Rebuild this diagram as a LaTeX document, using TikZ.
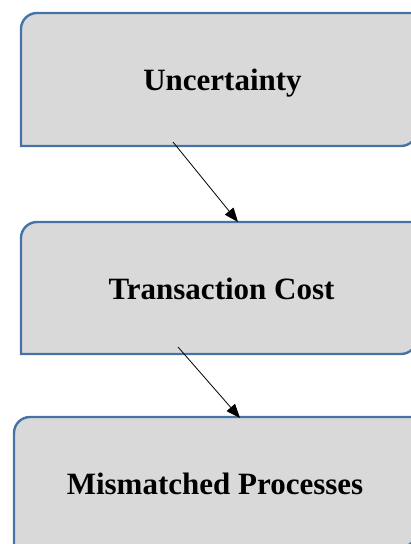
\documentclass[tikz,border=0pt]{standalone}
\usepackage{fontspec}
\setmainfont{Liberation Serif}
\usetikzlibrary{arrows.meta,calc,backgrounds}
\definecolor{boxfill}{HTML}{D9D9D9}
\definecolor{boxedge}{HTML}{4474A6}
\newcommand\cornerr{16pt}
% Box outline: top-left and bottom-right corners rounded, the other two square
\newcommand\diagbox[1]{%
  \draw[boxline] (#1.south west) -- ($(#1.north west)+(0,-\cornerr)$)
    arc[start angle=180,end angle=90,radius=\cornerr] -- (#1.north east)
    -- ($(#1.south east)+(0,\cornerr)$)
    arc[start angle=0,end angle=-90,radius=\cornerr] -- cycle;}
\begin{document}
\begin{tikzpicture}[x=1pt,y=1pt,
  boxshape/.style={rectangle,inner sep=0pt,outer sep=0pt},
  boxline/.style={fill=boxfill,draw=boxedge,line width=2.4pt},
  label/.style={anchor=base,inner sep=0pt,font=\fontsize{31}{36}\selectfont\bfseries},
  conn/.style={line width=0.8pt,-{Triangle[length=14pt,width=11pt]}}]
\useasboundingbox (0,0) rectangle (411,-544);
% box frames
\node[boxshape,minimum width=396pt,minimum height=133pt] (b1) at (219,-79.5) {};
\node[boxshape,minimum width=396pt,minimum height=132pt] (b2) at (219,-288) {};
\node[boxshape,minimum width=403pt,minimum height=130pt] (b3) at (215.5,-482) {};
\begin{scope}[on background layer]
  \diagbox{b1}
  \diagbox{b2}
  \diagbox{b3}
\end{scope}
% box texts
\node[label] (t1) at (222.5,-90) {Uncertainty};
\node[label] (t2) at (221.5,-299) {Transaction Cost};
\node[label] (t3) at (215,-494) {Mismatched Processes};
% connectors
\draw[conn] ($(b1.south)+(-46,4)$) -- ($(b2.north)+(19,0)$);
\draw[conn] ($(b2.south)+(-41,7)$) -- ($(b3.north)+(24.5,-1)$);
\end{tikzpicture}
\end{document}
